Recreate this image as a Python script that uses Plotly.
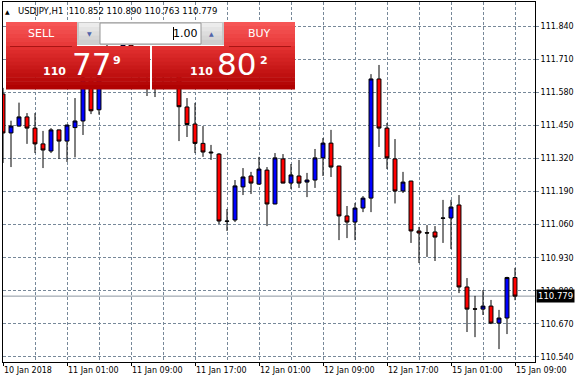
import plotly.graph_objects as go

# ---------------- data ----------------
symbol = "USDJPY,H1"
bar_index = list(range(65))
opens = [111.573, 111.420, 111.447, 111.483, 111.439, 111.377, 111.349, 111.432, 111.388, 111.441,
         111.467, 111.628, 111.511, 111.683, 111.738, 111.699, 111.765, 111.714, 111.667, 111.691,
         111.644, 111.699, 111.659, 111.522, 111.455, 111.379, 111.345, 111.337, 111.074, 111.078,
         111.208, 111.251, 111.219, 111.274, 111.141, 111.318, 111.223, 111.251, 111.227, 111.235,
         111.322, 111.380, 111.290, 111.094, 111.070, 111.125, 111.164, 111.632, 111.439, 111.318,
         111.192, 111.231, 111.035, 111.028, 111.031, 111.086, 111.086, 111.137, 110.815, 110.729,
         110.728, 110.740, 110.673, 110.693, 110.852]
highs = [111.597, 111.468, 111.539, 111.498, 111.498, 111.428, 111.439, 111.433, 111.452, 111.557,
         111.659, 111.651, 111.706, 111.769, 111.761, 111.793, 111.785, 111.738, 111.706, 111.714,
         111.726, 111.718, 111.683, 111.557, 111.538, 111.447, 111.373, 111.341, 111.121, 111.235,
         111.282, 111.267, 111.326, 111.286, 111.341, 111.337, 111.298, 111.314, 111.263, 111.357,
         111.400, 111.432, 111.291, 111.133, 111.145, 111.172, 111.651, 111.687, 111.459, 111.396,
         111.267, 111.232, 111.051, 111.058, 111.054, 111.157, 111.157, 111.176, 110.850, 110.780,
         110.803, 110.764, 110.725, 110.855, 110.890]
lows = [111.302, 111.286, 111.445, 111.377, 111.341, 111.282, 111.341, 111.318, 111.306, 111.324,
        111.412, 111.494, 111.492, 111.659, 111.667, 111.683, 111.648, 111.612, 111.565, 111.561,
        111.604, 111.620, 111.388, 111.404, 111.341, 111.326, 111.314, 111.062, 111.035, 111.070,
        111.176, 111.180, 111.216, 111.054, 111.140, 111.222, 111.200, 111.204, 111.168, 111.204,
        111.251, 111.247, 110.999, 111.007, 110.999, 111.109, 111.109, 111.365, 111.278, 111.143,
        111.184, 110.988, 110.909, 110.933, 110.917, 110.988, 110.964, 110.791, 110.638, 110.618,
        110.705, 110.669, 110.571, 110.630, 110.763]
closes = [111.420, 111.447, 111.483, 111.439, 111.377, 111.353, 111.432, 111.388, 111.451, 111.467,
          111.636, 111.507, 111.683, 111.738, 111.699, 111.765, 111.714, 111.667, 111.691, 111.644,
          111.699, 111.659, 111.523, 111.453, 111.379, 111.345, 111.342, 111.074, 111.073, 111.212,
          111.247, 111.223, 111.278, 111.141, 111.322, 111.223, 111.255, 111.223, 111.235, 111.322,
          111.380, 111.286, 111.094, 111.070, 111.125, 111.164, 111.632, 111.439, 111.322, 111.192,
          111.227, 111.035, 111.027, 111.027, 111.011, 111.085, 111.129, 110.815, 110.728, 110.728,
          110.740, 110.673, 110.693, 110.852, 110.779]
time_tick_bars = [0, 8, 16, 24, 32, 40, 48, 56, 64]
time_tick_labels = ["10 Jan 2018", "11 Jan 01:00", "11 Jan 09:00", "11 Jan 17:00", "12 Jan 01:00",
                    "12 Jan 09:00", "12 Jan 17:00", "15 Jan 01:00", "15 Jan 09:00"]
price_ticks = [110.540, 110.670, 110.800, 110.930, 111.060, 111.190, 111.320, 111.450, 111.580,
               111.710, 111.840]
spread = 0.023
lot_size = "1.00"

# ---------------- layout geometry ----------------
W, H = 579, 378
L, R, T, B = 3, 44, 2, 16
PW, PH = W - L - R, H - T - B
FONT = "DejaVu Sans"
GRID = "#778899"


def px(x):
    return (x - L) / PW


def py(y):
    return (H - B - y) / PH


fig = go.Figure()
fig.add_trace(go.Candlestick(
    x=bar_index, open=opens, high=highs, low=lows, close=closes,
    increasing=dict(fillcolor="#0000FF", line=dict(color="black", width=1)),
    decreasing=dict(fillcolor="#FF0000", line=dict(color="black", width=1)),
    whiskerwidth=0, hoverinfo="skip", showlegend=False,
))

shapes = []
annotations = []

last_close = closes[-1]
shapes.append(dict(type="line", xref="paper", yref="y", x0=0, x1=1, y0=last_close, y1=last_close,
                   line=dict(color="#8C96A0", width=1), layer="below"))


def rect(x0, y0, x1, y1, color, line=None):
    shapes.append(dict(type="rect", xref="paper", yref="paper", x0=px(x0), x1=px(x1),
                       y0=py(y1), y1=py(y0), fillcolor=color,
                       line=dict(width=0) if line is None else line, layer="above"))


def gradient(x0, y0, x1, y1, c0, c1, n):
    h = (y1 - y0) / n
    for i in range(n):
        t = i / max(n - 1, 1)
        c = tuple(round(c0[j] + (c1[j] - c0[j]) * t) for j in range(3))
        rect(x0, y0 + i * h, x1, y0 + (i + 1) * h + 0.6, "rgb(%d,%d,%d)" % c)


def text(x, y, s, size, color="white", bold=False, xanchor="left", family=FONT):
    annotations.append(dict(xref="paper", yref="paper", x=px(x), y=py(y), text=("<b>%s</b>" % s) if bold else s,
                            showarrow=False, xanchor=xanchor, yanchor="middle",
                            font=dict(family=family, size=size, color=color), borderpad=0))


# sell button
gradient(6, 22, 77, 46, (246, 86, 86), (232, 58, 58), 6)
gradient(6, 46, 150, 89, (226, 48, 48), (176, 2, 2), 11)
rect(10, 46, 72, 47, "rgb(170,20,20)")
# buy button
gradient(224, 22, 295, 46, (246, 86, 86), (232, 58, 58), 6)
gradient(152, 46, 295, 89, (226, 48, 48), (176, 2, 2), 11)
rect(229, 46, 291, 47, "rgb(170,20,20)")
# lot spinner
rect(77, 22, 224, 45, "rgb(200,200,200)")
gradient(79, 23, 100, 44, (236, 236, 236), (206, 206, 206), 5)
gradient(201, 23, 222, 44, (236, 236, 236), (206, 206, 206), 5)
rect(100, 23, 201, 44, "white", line=dict(color="rgb(150,150,150)", width=1))
rect(173, 27, 174, 40, "black")
text(89.5, 33, "▼", 6, color="rgb(80,100,170)", xanchor="center")
text(211.5, 33, "▲", 6, color="rgb(80,100,170)", xanchor="center")
text(199, 33.5, lot_size, 11, color="black", xanchor="right")

text(41, 33.5, "SELL", 11, xanchor="center")
text(259, 33.5, "BUY", 11, xanchor="center")

bid = "%.3f" % last_close
ask = "%.3f" % (last_close + spread)
for price, x_big, x_pts, x_sup in [(bid, 42, 71, 112), (ask, 189, 216, 259)]:
    big, pts, sup = price[:3], price[4:6], price[6]
    text(x_big, 71.5, big, 11, bold=True)
    text(x_pts, 64, pts, 31)
    text(x_sup, 60.5, sup, 11, bold=True)

# symbol header
hdr = "%s  %.3f %.3f %.3f %.3f" % (symbol, opens[-1], highs[-1], lows[-1], closes[-1])
text(4, 11, "▲", 6, color="black")
text(17, 11, hdr, 8.5, color="black")

# current price label
annotations.append(dict(xref="paper", yref="y", x=1, xshift=1, y=last_close, text=bid, showarrow=False,
                        xanchor="left", yanchor="middle", bgcolor="black",
                        font=dict(family=FONT, size=8.5, color="white"), borderpad=1))

fig.update_layout(
    width=W, height=H, margin=dict(l=L, r=R, t=T, b=B, pad=0),
    paper_bgcolor="white", plot_bgcolor="white",
    shapes=shapes, annotations=annotations, showlegend=False,
    font=dict(family=FONT, size=8, color="black"),
    xaxis=dict(range=[0, 66.5], rangeslider=dict(visible=False), tickvals=time_tick_bars,
               ticktext=time_tick_labels, ticklabelposition="outside right", ticks="outside",
               ticklen=3, tickcolor="black", showgrid=True, gridcolor=GRID, griddash="3px,2px",
               gridwidth=1, zeroline=False, showline=True, linecolor="black", linewidth=1, mirror=True,
               minor=dict(dtick=4, tick0=0, showgrid=True, gridcolor=GRID, griddash="3px,2px", ticks=""),
               tickfont=dict(family=FONT, size=8, color="black")),
    yaxis=dict(range=[110.5203, 111.9343], side="right", tickvals=price_ticks,
               ticktext=["%.3f" % v for v in price_ticks], ticks="outside", ticklen=3, tickcolor=GRID,
               showgrid=True, gridcolor=GRID, griddash="3px,2px", zeroline=False, showline=True,
               linecolor="black", linewidth=1, mirror=True,
               tickfont=dict(family=FONT, size=8, color="black")),
)

fig.write_html("out.html", config={"displayModeBar": False},
               post_script="document.body.style.margin='0';document.body.style.overflow='hidden';")
